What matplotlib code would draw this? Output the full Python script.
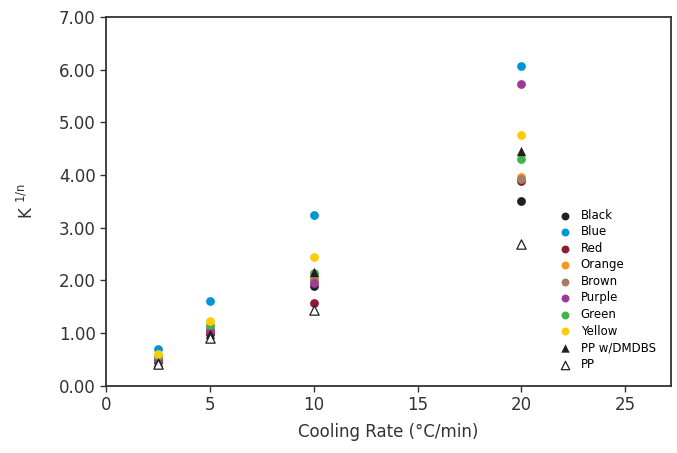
import matplotlib.pyplot as plt

# cooling rates (°C/min)
rates = [2.5, 5, 10, 20]

# K^(1/n) per sample
black = [0.45, 0.98, 1.90, 3.50]
blue = [0.70, 1.62, 3.25, 6.07]
red = [0.48, 1.00, 1.58, 3.88]
orange = [0.52, 1.12, 2.05, 3.97]
brown = [0.50, 1.08, 2.01, 3.92]
purple = [0.50, 1.05, 1.95, 5.72]
green = [0.56, 1.15, 2.14, 4.31]
yellow = [0.61, 1.24, 2.44, 4.75]
pp_dmdbs = [0.45, 0.99, 2.17, 4.46]
pp = [0.42, 0.90, 1.44, 2.69]

series = [
    ('Black', black, '#231f20'),
    ('Blue', blue, '#0096d6'),
    ('Red', red, '#8c1c30'),
    ('Orange', orange, '#f7941d'),
    ('Brown', brown, '#a67c62'),
    ('Purple', purple, '#9c3a96'),
    ('Green', green, '#3db549'),
    ('Yellow', yellow, '#ffcb05'),
]

plt.rcParams['font.family'] = ['DejaVu Sans']
fig = plt.figure(figsize=(6.77, 4.53), dpi=100)
ax = fig.add_axes([0.157, 0.148, 0.834, 0.815])

for name, vals, col in series:
    ax.scatter(rates, vals, s=40, color=col, label=name, linewidths=0, zorder=3)
ax.scatter(rates, pp_dmdbs, s=45, marker='^', color='#231f20', label='PP w/DMDBS',
           linewidths=0, zorder=4)
ax.scatter(rates, pp, s=45, marker='^', facecolors='white', edgecolors='#231f20',
           linewidths=0.9, label='PP', zorder=4)

ax.set_xlim(0, 27.2)
ax.set_ylim(0, 7)
ax.set_xticks([0, 5, 10, 15, 20, 25])
ax.set_yticks(range(8))
ax.set_yticklabels([f'{v:.2f}' for v in range(8)])
ax.tick_params(direction='out', length=4, width=1, labelsize=12, colors='#333333')
for sp in ax.spines.values():
    sp.set_linewidth(1.3)
    sp.set_color('#333333')

ax.set_xlabel('Cooling Rate (°C/min)', fontsize=12, color='#333333', labelpad=6)
ax.set_ylabel(r'K $^{\mathregular{1/n}}$', fontsize=12, color='#333333', labelpad=16)

ax.legend(loc='lower right', bbox_to_anchor=(1.0, 0.0), frameon=False,
          fontsize=8.5, handletextpad=0.3, labelspacing=0.3, markerscale=0.9,
          borderaxespad=0.9)

fig.savefig('out.png', dpi=100)
